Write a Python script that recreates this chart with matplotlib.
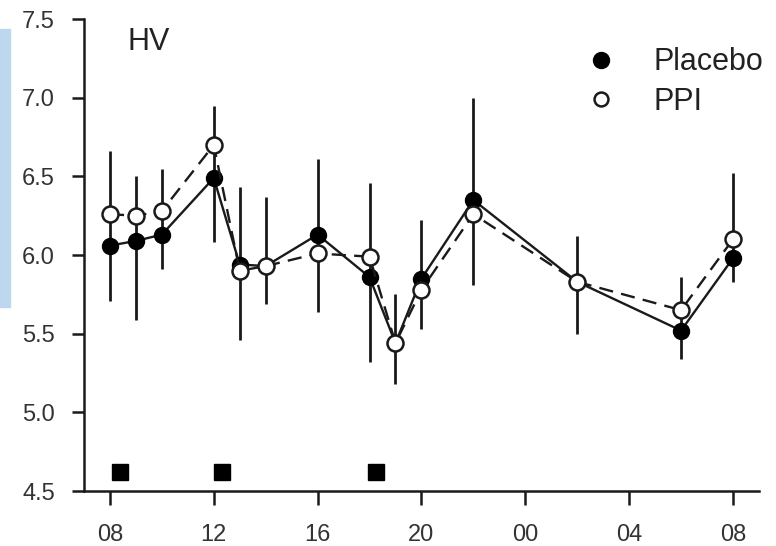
import matplotlib
matplotlib.use('Agg')
import matplotlib.pyplot as plt
from matplotlib.lines import Line2D
from matplotlib.patches import Rectangle

plt.rcParams['font.family'] = ['Liberation Sans', 'DejaVu Sans']

# clock hours (08 = 8, next-day 08 = 32)
hours = [8, 9, 10, 12, 13, 14, 16, 18, 19, 20, 22, 26, 30, 32]
placebo = [6.06, 6.09, 6.13, 6.49, 5.94, 5.93, 6.13, 5.86, 5.44, 5.85, 6.35, 5.83, 5.52, 5.98]
ppi = [6.26, 6.25, 6.28, 6.70, 5.90, 5.93, 6.01, 5.99, 5.44, 5.78, 6.26, 5.83, 5.65, 6.10]
# ends of the error whiskers at each time point
bar_top = [6.66, 6.50, 6.55, 6.95, 6.43, 6.37, 6.61, 6.46, 5.75, 6.22, 7.00, 6.12, 5.86, 6.52]
bar_bottom = [5.71, 5.59, 5.91, 6.08, 5.46, 5.69, 5.64, 5.32, 5.18, 5.53, 5.81, 5.50, 5.34, 5.83]
# meal times
meals = [8.4, 12.3, 18.25]
meal_level = 4.62

tick_pos = [8, 12, 16, 20, 24, 28, 32]
tick_lab = ['08', '12', '16', '20', '00', '04', '08']

fig = plt.figure(figsize=(7.76, 5.46), dpi=100)
ax = fig.add_axes([0.1082, 0.1007, 0.8698, 0.8643])

# light blue strip on the left edge of the image
fig.patches.append(Rectangle((0, 1 - 307 / 546), 10 / 776, (307 - 29) / 546,
                             transform=fig.transFigure, color='#bdd7ee', zorder=0))

ax.vlines(hours, bar_bottom, bar_top, colors='#1a1a1a', linewidth=2.0, zorder=1)
ax.plot(hours, placebo, '-', color='#1a1a1a', linewidth=1.7, marker='o', markersize=11.5,
        markerfacecolor='black', markeredgecolor='black', zorder=2)
ax.plot(hours, ppi, '--', color='#1a1a1a', linewidth=1.7, dashes=(6, 3.5), marker='o',
        markersize=11.5, markerfacecolor='white', markeredgecolor='#1a1a1a',
        markeredgewidth=1.8, zorder=3)
ax.plot(meals, [meal_level] * len(meals), 's', color='black', markersize=11, zorder=2)

ax.set_xlim(7, 33)
ax.set_ylim(4.5, 7.5)
ax.set_xticks(tick_pos)
ax.set_xticklabels(tick_lab)
ax.set_yticks([4.5, 5.0, 5.5, 6.0, 6.5, 7.0, 7.5])
ax.set_yticklabels(['4.5', '5.0', '5.5', '6.0', '6.5', '7.0', '7.5'])

for s in ['top', 'right']:
    ax.spines[s].set_visible(False)
for s in ['left', 'bottom']:
    ax.spines[s].set_linewidth(1.8)
    ax.spines[s].set_color('#1a1a1a')
ax.tick_params(axis='y', direction='out', length=9, width=1.8, pad=12,
               labelsize=17, labelcolor='#333333', color='#1a1a1a')
ax.tick_params(axis='x', direction='out', length=10, width=1.8, pad=14,
               labelsize=17, labelcolor='#333333', color='#1a1a1a')

ax.text(0.064, 0.951, 'HV', transform=ax.transAxes, fontsize=22, va='center',
        ha='left', color='#222222')

handles = [Line2D([], [], linestyle='none', marker='o', markersize=11.5,
                  markerfacecolor='black', markeredgecolor='black'),
           Line2D([], [], linestyle='none', marker='o', markersize=10,
                  markerfacecolor='white', markeredgecolor='#1a1a1a', markeredgewidth=1.8)]
ax.legend(handles, ['Placebo', 'PPI'], loc='upper left', bbox_to_anchor=(0.726, 0.966),
          frameon=False, fontsize=22, handlelength=1.0, handletextpad=1.2,
          labelspacing=0.3, labelcolor='#222222', borderaxespad=0)

fig.savefig('out.png', dpi=100)
